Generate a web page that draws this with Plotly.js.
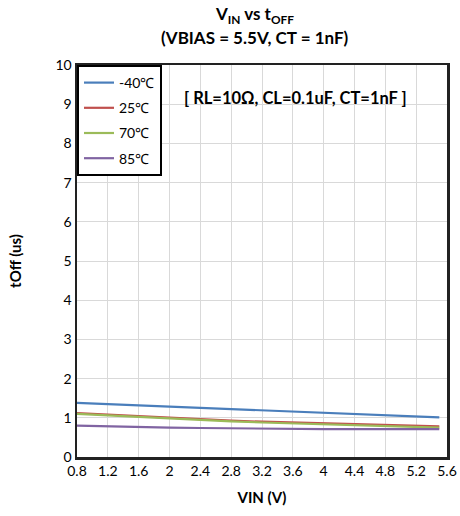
<!DOCTYPE html>
<html>
<head>
<meta charset="utf-8">
<script src="https://cdn.plot.ly/plotly-3.0.1.min.js"></script>
<style>html,body{margin:0;padding:0;background:#fff;}#chart{width:460px;height:516px;}</style>
</head>
<body>
<div id="chart"></div>
<script>
var vin = [0.8, 1.2, 1.6, 2.0, 2.4, 2.8, 3.2, 3.6, 4.0, 4.4, 4.8, 5.2, 5.5];
var seriesNames = ["-40\u2103", "25\u2103", "70\u2103", "85\u2103"];
var tMinus40 = [1.38, 1.35, 1.32, 1.29, 1.26, 1.23, 1.19, 1.16, 1.13, 1.10, 1.07, 1.04, 1.01];
var t25 = [1.12, 1.08, 1.04, 1.00, 0.96, 0.93, 0.90, 0.88, 0.86, 0.84, 0.82, 0.80, 0.78];
var t70 = [1.10, 1.06, 1.02, 0.98, 0.94, 0.91, 0.88, 0.86, 0.84, 0.82, 0.80, 0.77, 0.75];
var t85 = [0.80, 0.78, 0.77, 0.75, 0.74, 0.73, 0.72, 0.72, 0.71, 0.71, 0.71, 0.71, 0.71];
var colors = ["#4A7EBB", "#C0504D", "#9BBB59", "#8064A2"];
var allY = [tMinus40, t25, t70, t85];

var FONT = "Lato, 'Open Sans', sans-serif";
var traces = allY.map(function (ys, i) {
  return {
    x: vin, y: ys, name: seriesNames[i], type: "scatter", mode: "lines",
    line: {color: colors[i], width: 2.2},
    legendgroup: "g" + i
  };
});

var layout = {
  width: 460, height: 516,
  margin: {l: 77, r: 13, t: 65, b: 59},
  paper_bgcolor: "#fff", plot_bgcolor: "#fff",
  font: {family: FONT, size: 14, color: "#000"},
  xaxis: {
    range: [0.8, 5.6], dtick: 0.4, tick0: 0.8,
    showgrid: true, gridcolor: "#d9d9d9", gridwidth: 1,
    showline: true, linecolor: "#222", linewidth: 2.5, mirror: true,
    zeroline: false, ticks: "", ticklen: 0,
    tickfont: {family: FONT, size: 14, color: "#000"},
    title: {text: "<b>VIN (V)</b>", font: {family: FONT, size: 15, color: "#000"}, standoff: 14}
  },
  yaxis: {
    range: [0, 10], dtick: 1,
    showgrid: true, gridcolor: "#d9d9d9", gridwidth: 1,
    showline: true, linecolor: "#222", linewidth: 2.5, mirror: true,
    zeroline: false, ticks: "",
    tickfont: {family: FONT, size: 14, color: "#000"},
    title: {text: "<b>tOff (us)</b>", font: {family: FONT, size: 15, color: "#000"}, standoff: 30}
  },
  legend: {
    x: 0, y: 1, xanchor: "left", yanchor: "top",
    bgcolor: "#fff", bordercolor: "#000", borderwidth: 2,
    font: {family: FONT, size: 14, color: "#000"},
    tracegroupgap: 4, itemwidth: 30
  },
  showlegend: true,
  annotations: [
    {
      xref: "paper", yref: "paper", x: 0.48, y: 1.128, xanchor: "center", yanchor: "middle",
      text: "<b>V<sub>IN</sub> vs t<sub>OFF</sub></b>", showarrow: false,
      font: {family: FONT, size: 17, color: "#000"}
    },
    {
      xref: "paper", yref: "paper", x: 0.48, y: 1.069, xanchor: "center", yanchor: "middle",
      text: "<b>(VBIAS = 5.5V, CT = 1nF)</b>", showarrow: false,
      font: {family: FONT, size: 17, color: "#000"}
    },
    {
      xref: "paper", yref: "paper", x: 0.59, y: 0.915, xanchor: "center", yanchor: "middle",
      text: "<b>[ RL=10\u03A9, CL=0.1uF, CT=1nF ]</b>", showarrow: false,
      font: {family: FONT, size: 16.5, color: "#000"}
    }
  ]
};

Plotly.newPlot("chart", traces, layout, {displayModeBar: false, staticPlot: true});
</script>
</body>
</html>
